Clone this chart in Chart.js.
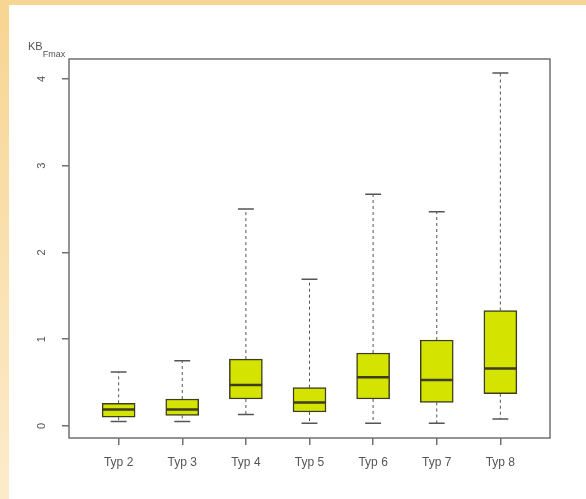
<!DOCTYPE html>
<html>
<head>
<meta charset="utf-8">
<script src="https://cdn.jsdelivr.net/npm/chart.js@4"></script>
<style>
  html, body { margin: 0; padding: 0; }
  body {
    width: 586px; height: 499px; overflow: hidden;
    background: linear-gradient(to bottom, #f7d592, #fcebcb);
  }
  #panel {
    position: absolute; left: 9px; top: 5px;
    width: 577px; height: 494px; background: #fff;
  }
</style>
</head>
<body>
<div id="panel"><canvas id="box" width="577" height="494"></canvas></div>
<script>
'use strict';

// Box plot values
let categories = ['Typ 2', 'Typ 3', 'Typ 4', 'Typ 5', 'Typ 6', 'Typ 7', 'Typ 8'];
let whiskerLow = [0.05, 0.05, 0.13, 0.03, 0.03, 0.03, 0.08];
let q1Values = [0.10, 0.12, 0.31, 0.16, 0.31, 0.27, 0.37];
let medianValues = [0.19, 0.19, 0.47, 0.27, 0.56, 0.53, 0.66];
let q3Values = [0.26, 0.31, 0.77, 0.44, 0.84, 0.99, 1.33];
let whiskerHigh = [0.62, 0.75, 2.50, 1.69, 2.67, 2.47, 4.07];
let yTicks = [0, 1, 2, 3, 4];

let boxHalf = 0.256;
let capHalf = 0.125;

// Build the line segments (a point with y null separates them)
let medianSegs = [];
let whiskerSegs = [];
let capSegs = [];
for (let i = 0; i < categories.length; i++) {
  medianSegs.push({ x: i - boxHalf, y: medianValues[i] }, { x: i + boxHalf, y: medianValues[i] }, { x: i, y: null });
  whiskerSegs.push({ x: i, y: q3Values[i] }, { x: i, y: whiskerHigh[i] }, { x: i, y: null });
  whiskerSegs.push({ x: i, y: q1Values[i] }, { x: i, y: whiskerLow[i] }, { x: i, y: null });
  capSegs.push({ x: i - capHalf, y: whiskerHigh[i] }, { x: i + capHalf, y: whiskerHigh[i] }, { x: i, y: null });
  capSegs.push({ x: i - capHalf, y: whiskerLow[i] }, { x: i + capHalf, y: whiskerLow[i] }, { x: i, y: null });
}

let boxData = [];
for (let i = 0; i < categories.length; i++) {
  boxData.push({ x: i, y: [q1Values[i], q3Values[i]] });
}

// Frame round the plot, rotated y labels and axis title
let decorPlugin = {
  id: 'decor',
  afterDraw(chart) {
    let ctx = chart.ctx;
    let a = chart.chartArea;
    let yScale = chart.scales.y;
    ctx.save();
    ctx.strokeStyle = '#707070';
    ctx.lineWidth = 1.5;
    ctx.strokeRect(a.left, a.top, a.right - a.left, a.bottom - a.top);

    ctx.fillStyle = '#555';
    ctx.font = '11px "Liberation Sans", Arial, sans-serif';
    ctx.textAlign = 'center';
    ctx.textBaseline = 'middle';
    for (let i = 0; i < yTicks.length; i++) {
      let py = yScale.getPixelForValue(yTicks[i]);
      ctx.save();
      ctx.translate(a.left - 27, py);
      ctx.rotate(-Math.PI / 2);
      ctx.fillText(String(yTicks[i]), 0, 0);
      ctx.restore();
    }

    ctx.textAlign = 'left';
    ctx.textBaseline = 'alphabetic';
    ctx.font = '11px "Liberation Sans", Arial, sans-serif';
    ctx.fillText('KB', 19, 45);
    let w = ctx.measureText('KB').width;
    ctx.font = '9px "Liberation Sans", Arial, sans-serif';
    ctx.fillText('Fmax', 19 + w, 52);
    ctx.restore();
  }
};

let ctx = document.getElementById('box').getContext('2d');

new Chart(ctx, {
  data: {
    datasets: [
      {
        type: 'scatter',
        order: 3,
        data: whiskerSegs,
        showLine: true,
        spanGaps: false,
        borderColor: '#555',
        borderWidth: 1,
        borderDash: [3, 3],
        pointRadius: 0
      },
      {
        type: 'bar',
        order: 2,
        data: boxData,
        backgroundColor: '#d5e300',
        borderColor: '#3d3d20',
        borderWidth: 1.5,
        borderSkipped: false,
        barThickness: 33
      },
      {
        type: 'scatter',
        order: 1,
        data: medianSegs,
        showLine: true,
        spanGaps: false,
        borderColor: '#3d3d20',
        borderWidth: 2.5,
        pointRadius: 0
      },
      {
        type: 'scatter',
        order: 1,
        data: capSegs,
        showLine: true,
        spanGaps: false,
        borderColor: '#555',
        borderWidth: 1.5,
        pointRadius: 0
      }
    ]
  },
  options: {
    responsive: false,
    animation: false,
    devicePixelRatio: 1,
    layout: { padding: { left: 30, top: 54, right: 36, bottom: 21 } },
    plugins: {
      legend: { display: false },
      tooltip: { enabled: false }
    },
    scales: {
      x: {
        type: 'linear',
        offset: false,
        min: -0.78,
        max: 6.78,
        border: { display: false },
        grid: { offset: false, drawOnChartArea: false, tickLength: 7, color: '#707070', lineWidth: 1.5 },
        ticks: {
          stepSize: 1,
          includeBounds: false,
          padding: 10,
          color: '#555',
          font: { family: '"Liberation Sans", Arial, sans-serif', size: 12 },
          maxRotation: 0,
          autoSkip: false,
          callback: function (value) {
            return Number.isInteger(value) ? categories[value] : '';
          }
        },
        afterFit: function (scale) { scale.height = 40; }
      },
      y: {
        min: -0.14,
        max: 4.23,
        border: { display: false },
        grid: { drawOnChartArea: false, tickLength: 7, color: '#707070', lineWidth: 1.5 },
        ticks: { stepSize: 1, includeBounds: false, display: false },
        afterFit: function (scale) { scale.width = 30; }
      }
    }
  },
  plugins: [decorPlugin]
});
</script>
</body>
</html>
